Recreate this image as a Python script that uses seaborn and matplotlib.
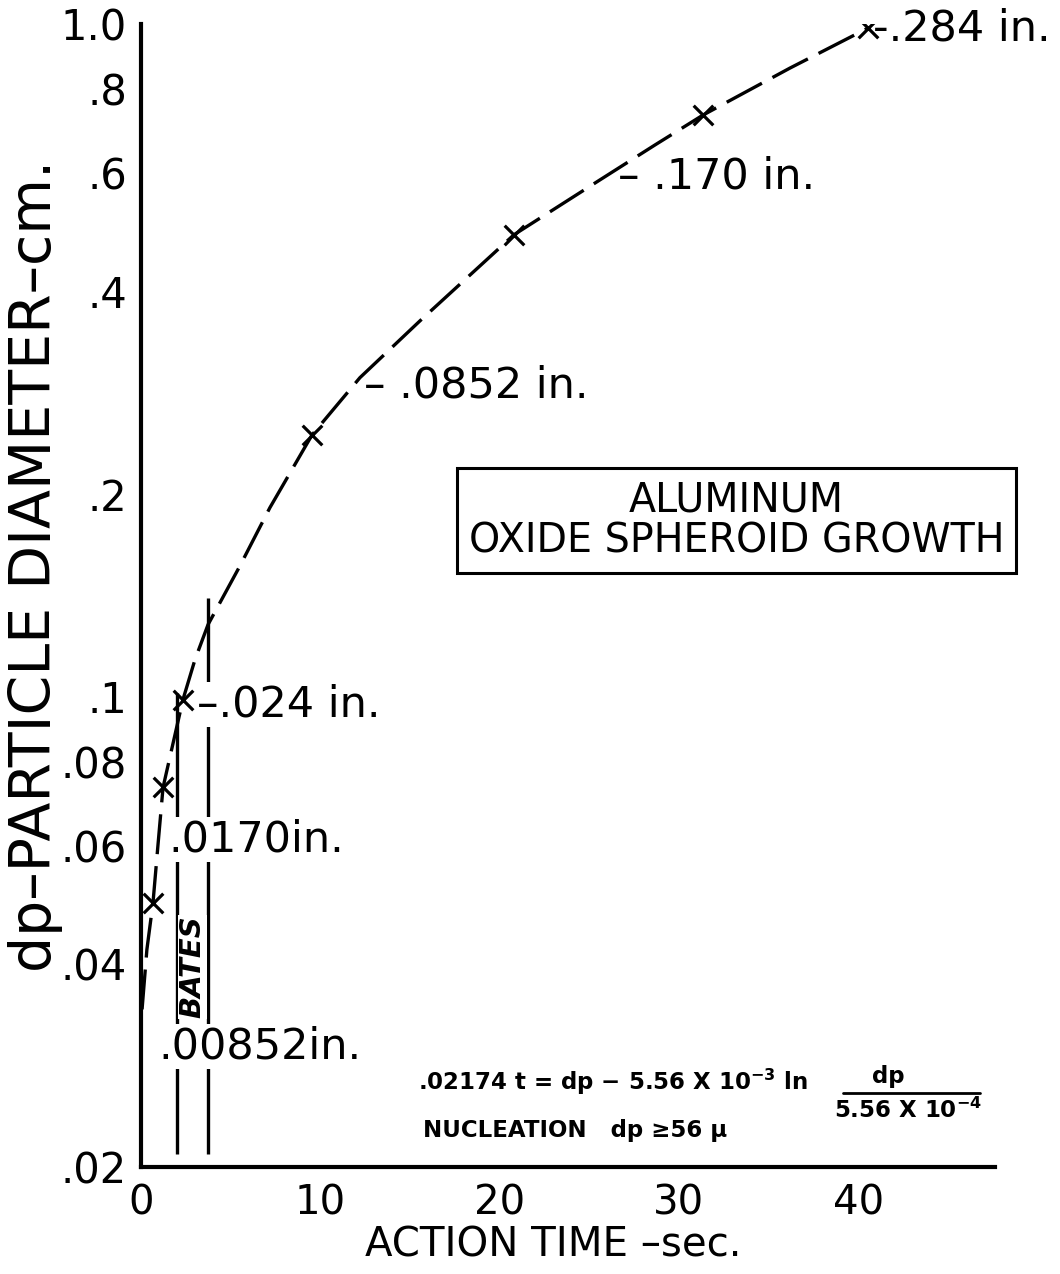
import matplotlib
matplotlib.use("Agg")
import matplotlib.pyplot as plt
from matplotlib.lines import Line2D
import seaborn as sns
import pandas as pd

# ---------------- data ----------------
curve_t = [0.06, 0.33, 0.67, 0.95, 1.23, 2.34, 3.01, 3.74, 5.52, 7.19, 9.54,
           12.21, 15.56, 20.8, 25.6, 28.67, 31.34, 36.2, 40.55]
curve_dp = [0.0343, 0.0421, 0.0494, 0.0603, 0.0733, 0.099, 0.1135, 0.128, 0.1565,
            0.191, 0.245, 0.298, 0.362, 0.486, 0.5865, 0.661, 0.732, 0.86, 0.986]
point_t = [0.67, 1.23, 2.34, 9.54, 20.8, 31.34, 40.55]
point_dp = [0.0494, 0.0733, 0.099, 0.245, 0.486, 0.732, 0.986]

size_labels = ["-.284 in.", "\u2013 .170 in.", "\u2013 .0852 in.",
               "\u2013.024 in.", ".0170in.", ".00852in."]
size_label_t = [40.85, 26.6, 12.45, 3.1, 1.5, 0.95]
size_label_dp = [0.986, 0.594, 0.29, 0.0973, 0.0613, 0.0302]

bates_t = [2.0, 3.74]
bates_dp_top = [0.1014, 0.140]
bates_dp_bottom = [0.0209, 0.0209]

y_ticks = [0.02, 0.04, 0.06, 0.08, 0.1, 0.2, 0.4, 0.6, 0.8, 1.0]
y_ticklabels = [".02", ".04", ".06", ".08", ".1", ".2", ".4", ".6", ".8", "1.0"]
x_ticks = [0, 5, 10, 15, 20, 25, 30, 35, 40]
x_ticklabels = ["0", "", "10", "", "20", "", "30", "", "40"]

curve_df = pd.DataFrame({"t": curve_t, "dp": curve_dp})
point_df = pd.DataFrame({"t": point_t, "dp": point_dp})

# ---------------- style ----------------
sns.set_style("white")
plt.rcParams["font.family"] = ["DejaVu Sans"]
plt.rcParams["text.color"] = "black"
plt.rcParams["axes.labelcolor"] = "black"
plt.rcParams["xtick.color"] = "black"
plt.rcParams["ytick.color"] = "black"

fig = plt.figure(figsize=(10.6, 12.74), dpi=100)
ax = fig.add_axes([0.1330, 0.0840, 0.8057, 0.8972])
ax.set_yscale("log")

sns.lineplot(data=curve_df, x="t", y="dp", ax=ax, color="black", lw=2.4,
             linestyle=(0, (12, 3.6)), estimator=None, sort=False, zorder=5)
sns.scatterplot(data=point_df, x="t", y="dp", ax=ax, marker="x", s=200,
                color="black", linewidth=2.3, zorder=6)

ax.vlines(bates_t, bates_dp_bottom, bates_dp_top, color="black", lw=2.4, zorder=2)

ax.set_xlim(0, 47.63)
ax.set_ylim(0.02, 1.0)

for s in ["top", "right"]:
    ax.spines[s].set_visible(False)
for s in ["left", "bottom"]:
    ax.spines[s].set_linewidth(3.0)
    ax.spines[s].set_color("black")

ax.set_yticks(y_ticks)
ax.set_yticklabels(y_ticklabels)
ax.yaxis.set_minor_locator(matplotlib.ticker.NullLocator())
ax.set_xticks(x_ticks)
ax.set_xticklabels(x_ticklabels)
ax.tick_params(axis="y", which="major", direction="out", length=9, width=2.2,
               pad=1, labelsize=30, labelcolor="black")
ax.tick_params(axis="x", which="major", direction="out", length=11, width=2.2,
               pad=1, labelsize=29, labelcolor="black")

ax.set_xlabel("ACTION TIME \u2013sec.", fontsize=29, color="black")
ax.xaxis.set_label_coords(0.4824, -0.0685)
ax.xaxis.label.set_verticalalignment("center")
ax.set_ylabel("dp\u2013PARTICLE DIAMETER\u2013cm.", fontsize=41, color="black")
ax.yaxis.set_label_coords(-0.124, 0.526)
ax.yaxis.label.set_verticalalignment("center")

# size annotations
white = dict(facecolor="white", edgecolor="none", pad=1.0)
for txt, tx, ty in zip(size_labels, size_label_t, size_label_dp):
    ax.text(tx, ty, txt, fontsize=31, ha="left", va="center", zorder=3,
            bbox=white)

ax.text(2.87, 0.0397, "BATES", rotation=90, fontsize=21, fontweight="bold",
        fontstyle="italic", ha="center", va="center",
        bbox=dict(facecolor="white", edgecolor="none", pad=0.5), zorder=3)

# title box
ax.text(33.2, 0.1826, "ALUMINUM\nOXIDE SPHEROID GROWTH", fontsize=28.5,
        ha="center", va="center", multialignment="center", linespacing=1.05,
        bbox=dict(boxstyle="square,pad=0.3", facecolor="white",
                  edgecolor="black", lw=2.2))

# equation
ax.text(15.45, 0.0268, ".02174 t = dp \u2212 5.56 X 10$^{\\mathbf{-3}}$ ln",
        fontsize=16.5, fontweight="bold", ha="left", va="center")
ax.text(41.7, 0.0273, "dp", fontsize=16.5, fontweight="bold", ha="center",
        va="center")
fig.add_artist(Line2D([843 / 1060, 980 / 1060], [1 - 1093 / 1274, 1 - 1093 / 1274],
                      color="black", lw=2.0, transform=fig.transFigure))
ax.text(42.8, 0.02425, "5.56 X 10$^{\\mathbf{-4}}$", fontsize=16.5,
        fontweight="bold", ha="center", va="center")
ax.text(15.73, 0.02265, "NUCLEATION   dp \u226556 \u03bc", fontsize=16.5,
        fontweight="bold", ha="left", va="center")

fig.savefig("out.png", dpi=100, facecolor="white")
